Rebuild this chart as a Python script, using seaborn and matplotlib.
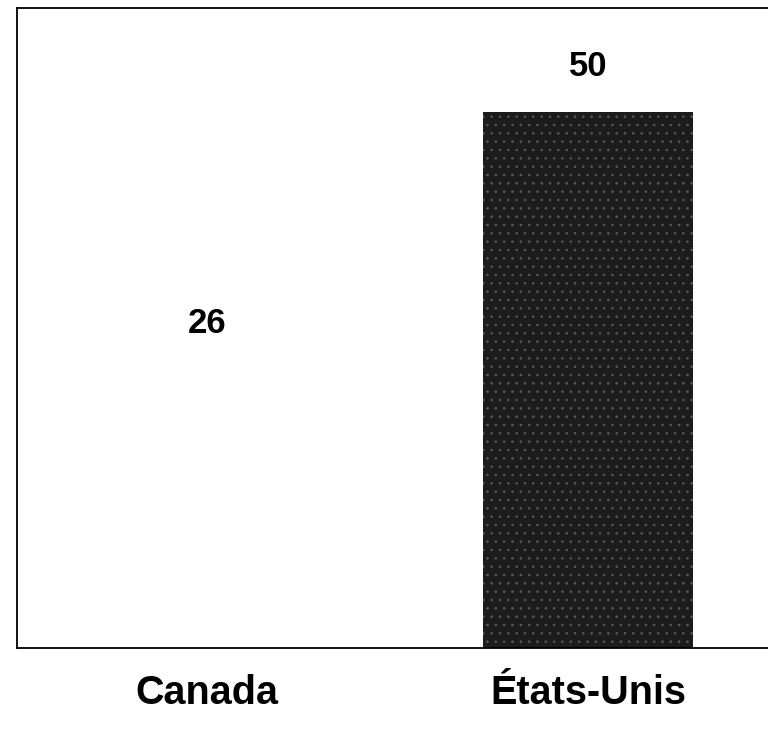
import matplotlib
matplotlib.use("Agg")
import matplotlib.pyplot as plt
import seaborn as sns
import pandas as pd

categories = ["Canada", "États-Unis"]
values = [26, 50]
bar_colors = ["#ffffff", "#1c1c1c"]

sns.set_theme(style="white")
plt.rcParams['font.family'] = ['Liberation Sans', 'DejaVu Sans']
plt.rcParams['hatch.linewidth'] = 0.6

df = pd.DataFrame({"pays": categories, "valeur": values})

fig = plt.figure(figsize=(7.68, 7.32), dpi=100)
W, H = 768, 732
left_px, right_px, top_px, bottom_px = 16.5, 778.5, 8, 648
ax = fig.add_axes([left_px / W, 1 - bottom_px / H,
                   (right_px - left_px) / W, (bottom_px - top_px) / H])

sns.barplot(data=df, x="pays", y="valeur", hue="pays", palette=bar_colors,
            legend=False, width=0.55, ax=ax, linewidth=0, saturation=1)

# speckled texture on the dark bar
for patch, c in zip(ax.patches, bar_colors):
    if c != "#ffffff":
        patch.set_hatch("..")
        patch.set_edgecolor("#5a5a5a")
        patch.set_linewidth(0)

ax.set_xlim(-0.5, 1.5)
ax.set_ylim(0, 59.7)
ax.set_xlabel("")
ax.set_ylabel("")
ax.set_yticks([])
ax.tick_params(axis="x", length=0, pad=19)
for lbl in ax.get_xticklabels():
    lbl.set_fontsize(28.5)
    lbl.set_fontweight("bold")
    lbl.set_color("black")

for spine in ax.spines.values():
    spine.set_visible(True)
    spine.set_color("black")
    spine.set_linewidth(1.3)

for i, v in enumerate(values):
    ax.annotate(f"{v}", xy=(i, v), xytext=(0, 33), textcoords="offset points",
                ha="center", va="center", fontsize=25, fontweight="bold",
                color="black")

fig.savefig("out.png", dpi=100)
